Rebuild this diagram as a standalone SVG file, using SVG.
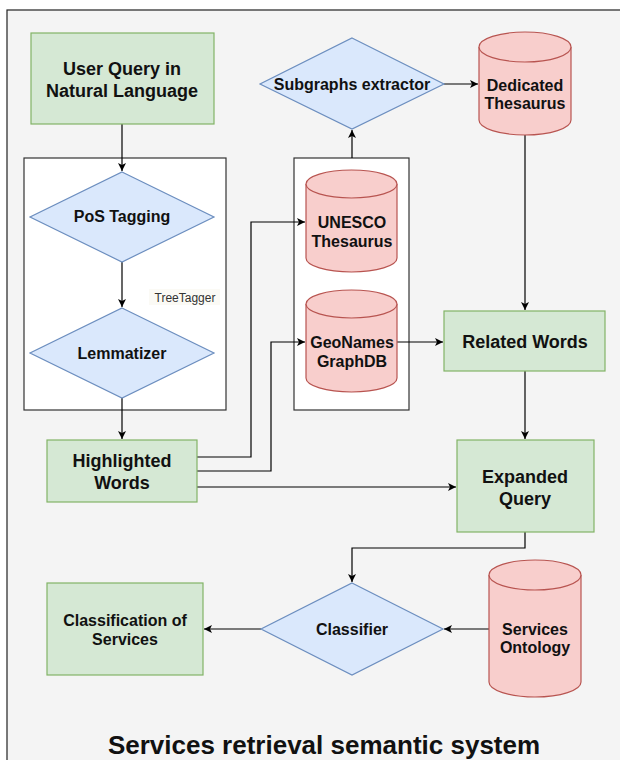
<svg xmlns="http://www.w3.org/2000/svg" width="620" height="760" viewBox="0 0 620 760">
<defs>
<marker id="ah" markerWidth="10" markerHeight="10" refX="9" refY="5" orient="auto" markerUnits="userSpaceOnUse">
<path d="M1,1 L9,5 L1,9 L3,5 Z" fill="#000"/>
</marker>
<style>
.g{fill:#d5e8d4;stroke:#82b366;stroke-width:1.2}
.b{fill:#dae8fc;stroke:#6c8ebf;stroke-width:1.2}
.r{fill:#f8cecc;stroke:#b85450;stroke-width:1.2}
.c{fill:#fff;stroke:#333;stroke-width:1.2}
.e{fill:none;stroke:#000;stroke-width:1.2;marker-end:url(#ah)}
text{font-family:"Liberation Sans",Arial,sans-serif;font-weight:bold;fill:#111;text-anchor:middle}
.t17{font-size:18px}
.t15{font-size:16px}
</style>
</defs>
<rect x="0" y="0" width="620" height="760" fill="#fff"/>
<rect x="7" y="10" width="640" height="780" fill="#f4f4f4" stroke="#222" stroke-width="1.2"/>

<g id="containerLeft"><rect class="c" x="24" y="158" width="202" height="252"/></g>
<g id="containerMid"><rect class="c" x="294" y="158" width="115" height="252"/></g>

<g id="connectors">
<path class="e" d="M122,124 L122,171"/>
<path class="e" d="M122,262 L122,307"/>
<path class="e" d="M122,398 L122,439"/>
<path class="e" d="M352,158 L352,130"/>
<path class="e" d="M444,84 L478,84"/>
<path class="e" d="M525,135 L525,310"/>
<path class="e" d="M397,342 L443,342"/>
<path class="e" d="M525,371 L525,439"/>
<path class="e" d="M197,457 L251,457 L251,222 L305,222"/>
<path class="e" d="M197,471 L271,471 L271,342 L305,342"/>
<path class="e" d="M197,487 L456,487"/>
<path class="e" d="M525,532 L525,548 L352,548 L352,582"/>
<path class="e" d="M489,629 L444,629"/>
<path class="e" d="M261,629 L204,629"/>
</g>

<g id="userQuery">
<rect class="g" x="31" y="33" width="183" height="91"/>
<text class="t17" x="122" y="75">User Query in</text>
<text class="t17" x="122" y="97">Natural Language</text>
</g>

<g id="posTagging">
<polygon class="b" points="122,172 214,217 122,262 30,217"/>
<text class="t15" x="122" y="222">PoS Tagging</text>
</g>

<g id="treeTagger">
<rect x="149" y="289" width="71" height="16" fill="#fbfaf5"/>
<text x="185" y="302" style="font-size:12px;font-weight:normal;fill:#333">TreeTagger</text>
</g>

<g id="lemmatizer">
<polygon class="b" points="122,308 214,353 122,398 30,353"/>
<text class="t15" x="122" y="359">Lemmatizer</text>
</g>

<g id="highlightedWords">
<rect class="g" x="47" y="440" width="150" height="62"/>
<text class="t17" x="122" y="467">Highlighted</text>
<text class="t17" x="122" y="489">Words</text>
</g>

<g id="unesco">
<path class="r" d="M306,184 A45.5,14 0 0 1 397,184 L397,258 A45.5,14 0 0 1 306,258 Z"/>
<path class="r" d="M306,184 A45.5,14 0 0 0 397,184" fill="none"/>
<text class="t15" x="352" y="228">UNESCO</text>
<text class="t15" x="352" y="247">Thesaurus</text>
</g>

<g id="geonames">
<path class="r" d="M306,304 A45.5,14 0 0 1 397,304 L397,378 A45.5,14 0 0 1 306,378 Z"/>
<path class="r" d="M306,304 A45.5,14 0 0 0 397,304" fill="none"/>
<text class="t15" x="352" y="348">GeoNames</text>
<text class="t15" x="352" y="367">GraphDB</text>
</g>

<g id="subgraphs">
<polygon class="b" points="352,38 444,84 352,129 260,84"/>
<text class="t15" x="352" y="90">Subgraphs extractor</text>
</g>

<g id="dedicated">
<path class="r" d="M479,47 A46,15 0 0 1 571,47 L571,120 A46,15 0 0 1 479,120 Z"/>
<path class="r" d="M479,47 A46,15 0 0 0 571,47" fill="none"/>
<text class="t15" x="525" y="91">Dedicated</text>
<text class="t15" x="525" y="109">Thesaurus</text>
</g>

<g id="relatedWords">
<rect class="g" x="444" y="311" width="161" height="60"/>
<text class="t17" x="525" y="348">Related Words</text>
</g>

<g id="expandedQuery">
<rect class="g" x="457" y="440" width="137" height="92"/>
<text class="t17" x="525" y="483">Expanded</text>
<text class="t17" x="525" y="505">Query</text>
</g>

<g id="classifier">
<polygon class="b" points="352,583 443,629 352,675 261,629"/>
<text class="t15" x="352" y="635">Classifier</text>
</g>

<g id="classification">
<rect class="g" x="47" y="583" width="156" height="92"/>
<text class="t15" x="125" y="626">Classification of</text>
<text class="t15" x="125" y="645">Services</text>
</g>

<g id="servicesOntology">
<path class="r" d="M489,575 A46,15 0 0 1 581,575 L581,682 A46,15 0 0 1 489,682 Z"/>
<path class="r" d="M489,575 A46,15 0 0 0 581,575" fill="none"/>
<text class="t15" x="535" y="635">Services</text>
<text class="t15" x="535" y="653">Ontology</text>
</g>

<g id="title">
<text x="324" y="754" style="font-size:26px">Services retrieval semantic system</text>
</g>
</svg>
